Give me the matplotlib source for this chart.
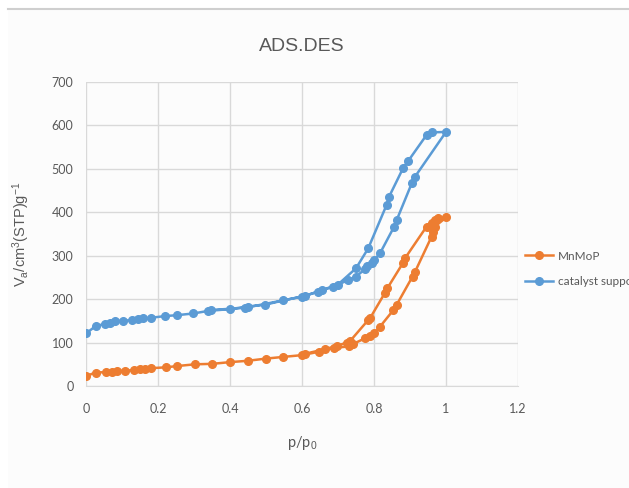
import matplotlib
matplotlib.use("Agg")
import matplotlib.pyplot as plt
from matplotlib.patches import Rectangle
from matplotlib.lines import Line2D

# MnMoP: adsorption branch then desorption branch
mn_x = [0, 0.027, 0.056, 0.071, 0.087, 0.108, 0.133, 0.15, 0.164, 0.18, 0.222, 0.254,
        0.303, 0.351, 0.4, 0.449, 0.499, 0.548, 0.599, 0.648, 0.689, 0.731, 0.743,
        0.775, 0.789, 0.801, 0.817, 0.854, 0.863, 0.907, 0.914, 0.96, 0.965, 0.969, 1.0,
        0.979, 0.969, 0.96, 0.946, 0.886, 0.881, 0.837, 0.83, 0.789, 0.784, 0.733, 0.724,
        0.696, 0.664, 0.608]
mn_y = [23, 31, 32, 33, 35, 35, 37, 38, 39, 41, 43, 46,
        50, 51, 55, 58, 63, 67, 71, 79, 88, 91, 97,
        110, 115, 121, 137, 175, 187, 252, 263, 344, 355, 367, 388,
        386, 383, 375, 367, 294, 284, 225, 214, 156, 152, 103, 100,
        92, 85, 74]

# catalyst support
cs_x = [0, 0.027, 0.053, 0.067, 0.081, 0.102, 0.127, 0.145, 0.159, 0.18, 0.219, 0.252,
        0.298, 0.34, 0.4, 0.449, 0.497, 0.548, 0.599, 0.645, 0.687, 0.729, 0.75,
        0.775, 0.781, 0.794, 0.801, 0.817, 0.856, 0.863, 0.905, 0.914, 1.0,
        0.96, 0.946, 0.894, 0.881, 0.842, 0.835, 0.784, 0.75, 0.699, 0.655, 0.608,
        0.442, 0.347]
cs_y = [121, 138, 143, 146, 150, 150, 152, 154, 156, 157, 161, 163,
        167, 173, 177, 183, 187, 197, 206, 217, 229, 244, 252,
        269, 276, 284, 290, 306, 367, 382, 467, 482, 585,
        584, 578, 517, 502, 436, 417, 317, 271, 233, 221, 207,
        180, 175]

orange = '#ED7D31'
blue = '#5B9BD5'
grey = '#595959'

plt.rcParams['font.family'] = ['Lato', 'DejaVu Sans']
plt.rcParams['mathtext.fontset'] = 'custom'
plt.rcParams['mathtext.rm'] = 'Liberation Sans'
plt.rcParams['mathtext.it'] = 'Liberation Sans'

fig = plt.figure(figsize=(6.29, 4.88), dpi=100)
fig.patch.set_facecolor('white')
fig.patches.append(Rectangle((8/629, 0), 1, 1 - 9/488, transform=fig.transFigure,
                             facecolor='#FCFCFC', edgecolor='none', zorder=-10))
fig.lines.append(Line2D([8/629, 1], [1 - 8.5/488, 1 - 8.5/488], transform=fig.transFigure,
                        color='#CFCFCF', lw=1.5))

ax = fig.add_axes([86/629, 1 - 386/488, 432/629, 304/488])
ax.set_facecolor('none')

ax.plot(mn_x, mn_y, '-o', color=orange, lw=1.8, ms=5.5, label='MnMoP', zorder=3)
ax.plot(cs_x, cs_y, '-o', color=blue, lw=1.8, ms=5.5, label='catalyst support', zorder=3)

ax.set_xlim(0, 1.2)
ax.set_ylim(0, 700)
ax.set_xticks([0, 0.2, 0.4, 0.6, 0.8, 1, 1.2])
ax.set_xticklabels(['0', '0.2', '0.4', '0.6', '0.8', '1', '1.2'])
ax.set_yticks(range(0, 701, 100))
ax.grid(True, color='#D9D9D9', lw=1)
ax.set_axisbelow(True)
for s in ['top', 'right', 'left']:
    ax.spines[s].set_visible(False)
ax.spines['bottom'].set_color('#D9D9D9')
ax.tick_params(length=0, colors=grey, labelsize=9)
ax.tick_params(axis='x', pad=12)
ax.tick_params(axis='y', pad=9)

ax.set_title('ADS.DES', fontsize=14, color=grey, family='Liberation Sans', pad=22)
ax.set_xlabel('p/p$_0$', fontsize=10.5, color=grey, labelpad=14)
ax.set_ylabel('V$_a$/cm$^3$(STP)g$^{-1}$', fontsize=10.5, color=grey,
              family='Liberation Sans', labelpad=14)

# legend runs off the right edge, as in the original screenshot
leg = fig.legend(loc='upper left', bbox_to_anchor=(514/629, 1 - 240/488), frameon=False,
                 prop={'size': 8.5}, handlelength=2.4, labelspacing=1.25, handletextpad=0.4)
for t in leg.get_texts():
    t.set_color(grey)

fig.savefig('out.png', dpi=100)
